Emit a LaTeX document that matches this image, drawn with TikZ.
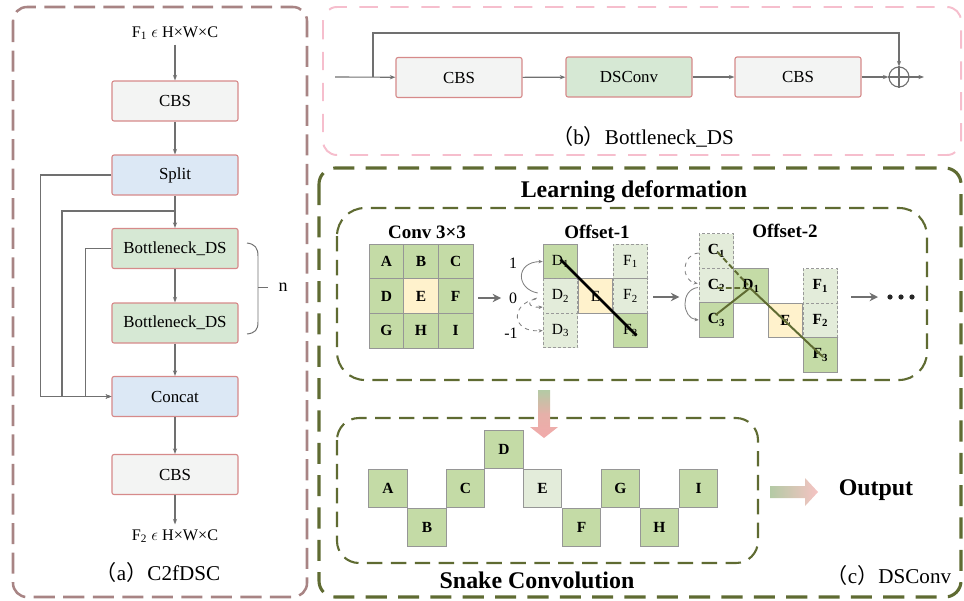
\documentclass[tikz,border=0pt]{standalone}
\usepackage{fontspec}
\setmainfont{Liberation Serif}
\newfontfamily\cjkfont{Noto Sans CJK SC}
\usetikzlibrary{arrows.meta,calc}
\definecolor{abrd}{RGB}{168,132,132}
\definecolor{bbrd}{RGB}{246,190,205}
\definecolor{olv}{RGB}{95,107,50}
\definecolor{boxbrd}{RGB}{214,138,138}
\definecolor{cbsfill}{RGB}{243,244,243}
\definecolor{bluefill}{RGB}{220,232,245}
\definecolor{greenfill}{RGB}{214,232,212}
\definecolor{cellg}{RGB}{196,219,166}
\definecolor{celll}{RGB}{227,236,218}
\definecolor{celly}{RGB}{255,242,204}
\definecolor{lgray}{RGB}{112,112,112}
\definecolor{cellbrd}{RGB}{150,150,150}
\definecolor{gradg}{RGB}{180,202,165}
\definecolor{gradp}{RGB}{242,170,170}
\newcommand\zzsmall{\fontsize{11.5pt}{13pt}\selectfont}
\newcommand\zzbox{\fontsize{12pt}{14pt}\selectfont}
\newcommand\zzcap{\fontsize{15pt}{17pt}\selectfont}
\newcommand\zztitle{\fontsize{17pt}{19pt}\selectfont\bfseries}
\newcommand\zzsub{\fontsize{13.5pt}{15pt}\selectfont\bfseries}
\newcommand\zzcell{\fontsize{11pt}{12pt}\selectfont}
\newcommand\zzlab{\fontsize{11.3pt}{13pt}\selectfont}
\newcommand\zzn{\fontsize{12.8pt}{14pt}\selectfont}
\begin{document}
\begin{tikzpicture}[x=0.025cm,y=-0.025cm,
  box/.style={draw=boxbrd, line width=0.8pt, rounded corners=1.5pt, minimum width=3.15cm, minimum height=1cm, inner sep=0pt, font=\zzbox},
  con/.style={draw=lgray, line width=0.8pt, -{Stealth[length=4pt,width=3pt]}},
  arrbig/.style={draw=lgray, line width=1.5pt, -{Stealth[length=6pt,width=6pt]}},
  arcs/.style={draw=gray, line width=0.6pt, -{Stealth[length=3pt,width=2.5pt]}},
  cell/.style={minimum size=0.8675cm, inner sep=0pt, draw=cellbrd, line width=0.6pt, font=\zzcell},
  cellG/.style={cell, fill=cellg},
  cellL/.style={cell, fill=celll, draw=gray!80, dash pattern=on 2pt off 1.5pt},
  cellY/.style={cell, fill=celly},
  snk/.style={minimum size=0.97cm, inner sep=0pt, draw=cellbrd, line width=0.6pt, fill=cellg, font=\zzcell\bfseries}
]
\useasboundingbox (0,0) rectangle (964,600);

% panel frames
\draw[abrd, line width=1.8pt, dash pattern=on 15pt off 6pt, rounded corners=0.35cm] (13,7) rectangle (307,597);
\draw[bbrd, line width=1.4pt, dash pattern=on 13pt off 9pt, rounded corners=0.35cm] (323,7) rectangle (961,155);
\draw[olv, line width=2.2pt, dash pattern=on 15pt off 8pt, rounded corners=0.4cm] (319,168) rectangle (961,597);
\draw[olv, line width=1.5pt, dash pattern=on 11pt off 6pt, rounded corners=0.7cm] (337,208) rectangle (927,380);
\draw[olv, line width=1.5pt, dash pattern=on 11pt off 6pt, rounded corners=0.55cm] (337,418) rectangle (758,563);

% ---------------- panel (a)
\node[font=\zzsmall] (f1) at (175,33) {F\textsubscript{1} $\epsilon$ H×W×C};
\node[box, fill=cbsfill] (cbs1) at (175,101) {CBS};
\node[box, fill=bluefill] (split) at (175,175) {Split};
\node[box, fill=greenfill] (bn1) at (175,248.5) {Bottleneck\_DS};
\node[box, fill=greenfill] (bn2) at (175,323) {Bottleneck\_DS};
\node[box, fill=bluefill] (concat) at (175,396.5) {Concat};
\node[box, fill=cbsfill] (cbs2) at (175,474.5) {CBS};
\node[font=\zzsmall] (f2) at (175,536) {F\textsubscript{2} $\epsilon$ H×W×C};
\node[font=\zzcap] (capa) at (158,572) {{\cjkfont （}a{\cjkfont ）}C2fDSC};

\draw[con] (f1) -- (cbs1);
\draw[con] (cbs1) -- (split);
\draw[con] (split) -- (bn1);
\draw[con] (bn1) -- (bn2);
\draw[con] (bn2) -- (concat);
\draw[con] (concat) -- (cbs2);
\draw[con] (cbs2) -- (f2);
\coordinate (sp) at (175,211);
\draw[con] (split.west) -- ($(split.west)+(-71,0)$) |- (concat.west);
\draw[con] (sp) -- ($(sp)+(-113,0)$) |- (concat.west);
\draw[con] (bn1.west) -- ($(bn1.west)+(-26,0)$) |- (concat.west);
% brace n
\draw[lgray, line width=0.7pt] (247,243) .. controls (255,244) and (258,248) .. (258,256) -- (258,322) .. controls (258,330) and (255,333) .. (247,334);
\draw[lgray, line width=0.7pt] (258,287) -- (268,287);
\node[font=\zzn] (nn) at (283,287) {n};

% ---------------- panel (b)
\coordinate (bin) at (335,77);
\coordinate (bbr) at (373,77);
\node[box, fill=cbsfill] (bc1) at (459,77.5) {CBS};
\node[box, fill=greenfill] (bds) at (629,77) {DSConv};
\node[box, fill=cbsfill] (bc2) at (798,77) {CBS};
\node[circle, draw=lgray, line width=0.8pt, minimum size=0.5cm, inner sep=0pt] (plus) at (899,77) {};
\draw[lgray, line width=0.8pt] (plus.north) -- (plus.south) (plus.west) -- (plus.east);
\coordinate (bout) at (924,77);
\draw[con] (bin) -- (bc1);
\draw[con] (bc1) -- (bds);
\draw[con] (bds) -- (bc2);
\draw[con] (bc2) -- (plus);
\draw[con] (plus) -- (bout);
\draw[con] (bbr) -- ++(0,-44) -| (plus.north);
\node[font=\zzcap] (capb) at (643,137) {{\cjkfont （}b{\cjkfont ）}Bottleneck\_DS};

% ---------------- panel (c)
\node[font=\zztitle] (ld) at (634,192) {Learning deformation};

% conv 3x3
\node[font=\zzsub] (convt) at (427,232) {Conv 3×3};
\node[cellG, font=\zzcell\bfseries] (cA) at (386.4,261.4) {A};
\node[cellG, font=\zzcell\bfseries] (cB) at (421.0,261.4) {B};
\node[cellG, font=\zzcell\bfseries] (cC) at (455.7,261.4) {C};
\node[cellG, font=\zzcell\bfseries] (cD) at (386.4,296.0) {D};
\node[cellY, font=\zzcell\bfseries] (cE) at (421.0,296.0) {E};
\node[cellG, font=\zzcell\bfseries] (cF) at (455.7,296.0) {F};
\node[cellG, font=\zzcell\bfseries] (cG) at (386.4,330.7) {G};
\node[cellG, font=\zzcell\bfseries] (cH) at (421.0,330.7) {H};
\node[cellG, font=\zzcell\bfseries] (cI) at (455.7,330.7) {I};

% offset-1
\node[font=\zzsub] (o1t) at (597,232) {Offset-1};
\node[font=\zzlab] (l1) at (513,263) {1};
\node[font=\zzlab] (l0) at (513,298) {0};
\node[font=\zzlab] (lm) at (511,333) {-1};
\draw[arrbig] ($(cF.east)+(5,2)$) -- ($(l0.west)+(-3,0)$);
\node[cellG] (oD1) at (560.5,261.5) {D\textsubscript{1}};
\node[cellL] (oD2) at (560.5,296) {D\textsubscript{2}};
\node[cellL] (oD3) at (560.5,330.5) {D\textsubscript{3}};
\node[cellY] (oE) at (595.5,296) {E};
\node[cellL] (oF1) at (630.5,261.5) {F\textsubscript{1}};
\node[cellL] (oF2) at (630.5,296) {F\textsubscript{2}};
\node[cellG] (oF3) at (630.5,330.5) {F\textsubscript{3}};
\draw[black, line width=1.8pt] ($(oD1.center)+(0,-2)$) -- ($(oF3.center)+(6,5)$);
\draw[arcs] ($(oD2.west)+(-5,-3)$) .. controls (516,289) and (515,262) .. (oD1.west);
\draw[arcs, dashed] ($(oD2.west)+(-6,2)$) .. controls (526,301) and (528,308) .. ($(oD2.west)+(0,11)$);
\draw[arcs, dashed] ($(oD2.west)+(-7,3)$) .. controls (510,304) and (511,333) .. (oD3.west);

% offset-2
\draw[arrbig] ($(oF2.east)+(5,1)$) -- ($(oF2.east)+(31,1)$);
\node[font=\zzsub] (o2t) at (785,231) {Offset-2};
\node[cellL, font=\zzcell\bfseries] (pC1) at (716.5,251) {C\textsubscript{1}};
\node[cellL, font=\zzcell\bfseries] (pC2) at (716.5,285.5) {C\textsubscript{2}};
\node[cellG, font=\zzcell\bfseries] (pC3) at (716.5,320) {C\textsubscript{3}};
\node[cellG, font=\zzcell\bfseries] (pD1) at (751,286) {D\textsubscript{1}};
\node[cellY, font=\zzcell\bfseries] (pE) at (785.5,320.5) {E};
\node[cellL, font=\zzcell\bfseries] (pF1) at (820.5,286) {F\textsubscript{1}};
\node[cellL, font=\zzcell\bfseries] (pF2) at (820.5,320.5) {F\textsubscript{2}};
\node[cellG, font=\zzcell\bfseries] (pF3) at (820.5,355) {F\textsubscript{3}};
\draw[olv, line width=1.4pt] ($(pC3.center)+(-1,-5)$) -- ($(pD1.center)+(-1,2)$) -- ($(pF3.center)+(2.5,2)$);
\draw[olv, line width=1.4pt, dash pattern=on 4pt off 2pt] ($(pC1.center)+(1,1)$) -- ($(pD1.center)+(-3,-1)$);
\draw[olv, line width=1.4pt, dash pattern=on 4pt off 2pt] ($(pC2.center)+(1,2.5)$) -- ($(pD1.center)+(-6,2)$);
\draw[arcs, dashed] ($(pC1.west)+(0,2)$) .. controls (682,254) and (680,280) .. ($(pC2.west)+(-1,-2)$);
\draw[arcs] ($(pC2.west)+(-1,2)$) .. controls (680,290) and (682,318) .. (pC3.west);
\coordinate (a3s) at (851,297);
\coordinate (a3e) at (878,297);
\draw[arrbig] (a3s) -- (a3e);
\fill[black!85] (890,297) circle [radius=2.6];
\fill[black!85] (901,297) circle [radius=2.6];
\fill[black!85] (912,297) circle [radius=2.6];

% down gradient arrow
\shade[top color=gradg, bottom color=gradp, middle color=gradp!80!gradg] (538,390) -- (550,390) -- (550,427) -- (558,427) -- (544,438) -- (530,427) -- (538,427) -- cycle;

% snake convolution
\node[snk] (sA) at (388,488.5) {A};
\node[snk] (sB) at (427,527.5) {B};
\node[snk] (sC) at (465.5,488.5) {C};
\node[snk] (sD) at (504,449.5) {D};
\node[snk, fill=celll] (sE) at (542.5,488.5) {E};
\node[snk] (sF) at (581.5,527.5) {F};
\node[snk] (sG) at (620.5,488.5) {G};
\node[snk] (sH) at (659.5,527.5) {H};
\node[snk] (sI) at (698.5,488.5) {I};
\node[font=\zztitle] (snkt) at (537,580) {Snake Convolution};

% output
\shade[left color=gradg, right color=gradp!70!white] (770,486) -- (805,486) -- (805,478) -- (818,492) -- (805,506) -- (805,498) -- (770,498) -- cycle;
\node[font=\zztitle] (outp) at (876,490) {Output};
\node[font=\zzcap] (capc) at (889,575) {{\cjkfont （}c{\cjkfont ）}DSConv};
\end{tikzpicture}
\end{document}
